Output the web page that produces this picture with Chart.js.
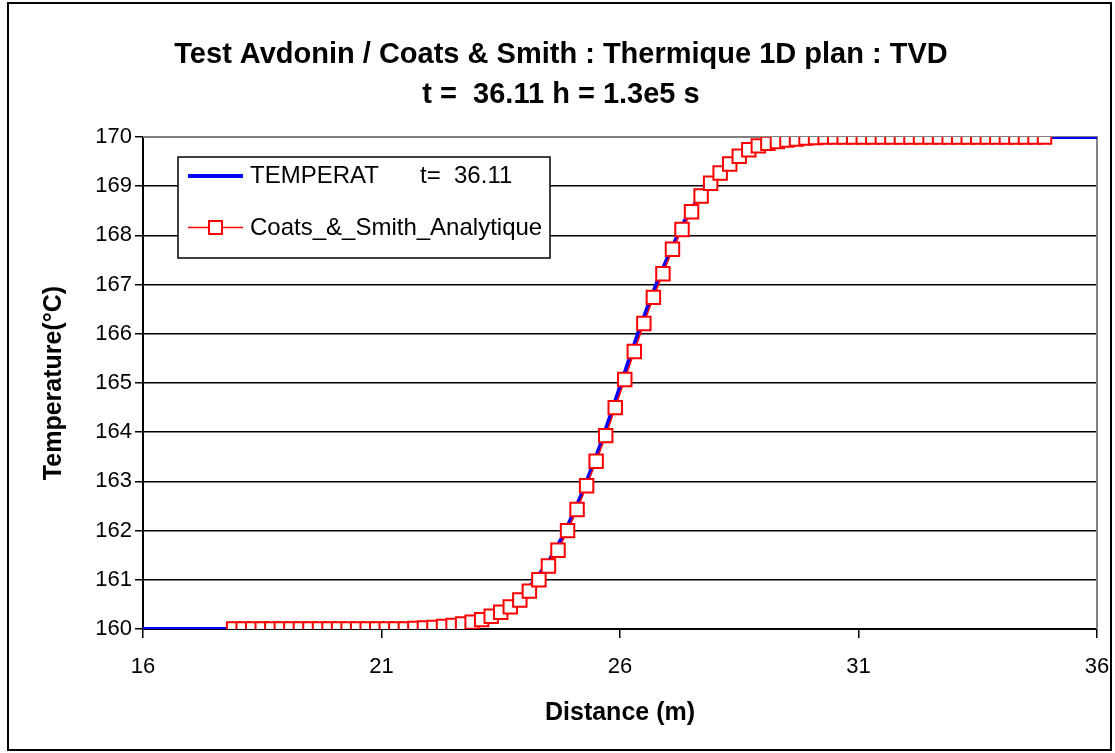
<!DOCTYPE html>
<html>
<head>
<meta charset="utf-8">
<script src="https://cdn.jsdelivr.net/npm/chart.js@4.4.1/dist/chart.umd.min.js"></script>
<style>
  html, body { margin: 0; padding: 0; background: #fff; }
  #wrap { width: 1115px; height: 753px; }
</style>
</head>
<body>
<div id="wrap"><canvas id="myChart" width="1115" height="753"></canvas></div>
<script>
// Données
const xTicks = [16, 21, 26, 31, 36];
const yTicks = [160, 161, 162, 163, 164, 165, 166, 167, 168, 169, 170];

// TEMPERAT (courbe calculée, trait bleu)
const blueX = [16, 21.5, 22.0, 22.5, 23.0, 23.5, 24.0, 24.5, 24.8, 25.0, 25.2, 25.4, 25.6, 25.8,
  26.0, 26.2, 26.4, 26.6, 26.8, 27.0, 27.2, 27.4, 27.7, 28.0, 28.5, 29.0, 29.5, 30.0, 30.5, 36];
const blueT = [160, 160.0, 160.03, 160.08, 160.18, 160.36, 160.72, 161.36, 161.88, 162.3, 162.75, 163.25, 163.77, 164.34,
  164.92, 165.5, 166.07, 166.6, 167.1, 167.55, 167.98, 168.38, 168.85, 169.2, 169.63, 169.86, 169.96, 169.99, 170.0, 170];

// Coats & Smith analytique (carrés rouges)
const redX = [17.9, 18.1, 18.3, 18.5, 18.7, 18.9, 19.1, 19.3, 19.5, 19.7, 19.9, 20.1, 20.3, 20.5, 20.7, 20.9,
  21.1, 21.3, 21.5, 21.7, 21.9, 22.1, 22.3, 22.5, 22.7, 22.9, 23.1, 23.3, 23.5, 23.7, 23.9, 24.1, 24.3, 24.5,
  24.7, 24.9, 25.1, 25.3, 25.5, 25.7, 25.9, 26.1, 26.3, 26.5, 26.7, 26.9, 27.1, 27.3, 27.5, 27.7, 27.9, 28.1,
  28.3, 28.5, 28.7, 28.9, 29.1, 29.3, 29.5, 29.7, 29.9, 30.1, 30.3, 30.5, 30.7, 30.9, 31.1, 31.3, 31.5, 31.7,
  31.9, 32.1, 32.3, 32.5, 32.7, 32.9, 33.1, 33.3, 33.5, 33.7, 33.9, 34.1, 34.3, 34.5, 34.7, 34.9];
const redT = [160, 160, 160, 160, 160, 160, 160, 160, 160, 160, 160, 160, 160, 160, 160, 160,
  160, 160, 160, 160.01, 160.02, 160.03, 160.05, 160.07, 160.10, 160.14, 160.19, 160.26, 160.34, 160.45, 160.59, 160.77, 161.00, 161.28,
  161.60, 162.00, 162.43, 162.91, 163.41, 163.93, 164.50, 165.07, 165.64, 166.21, 166.74, 167.22, 167.72, 168.12, 168.48, 168.80, 169.06, 169.27,
  169.45, 169.61, 169.74, 169.82, 169.87, 169.91, 169.94, 169.96, 169.98, 169.99, 170, 170, 170, 170, 170, 170, 170, 170,
  170, 170, 170, 170, 170, 170, 170, 170, 170, 170, 170, 170, 170, 170, 170, 170];

const FONT = "'Liberation Sans', Arial, sans-serif";

// cadre extérieur + bord gris du tracé
const framePlugin = {
  id: 'frame',
  beforeDraw(chart) {
    const ctx = chart.ctx;
    ctx.save();
    ctx.fillStyle = '#fff';
    ctx.fillRect(0, 0, chart.width, chart.height);
    ctx.restore();
  },
  beforeDatasetsDraw(chart) {
    const { ctx, chartArea: a } = chart;
    ctx.save();
    ctx.strokeStyle = '#808080';
    ctx.lineWidth = 2;
    ctx.beginPath();
    ctx.moveTo(a.left, a.top);
    ctx.lineTo(a.right, a.top);
    ctx.lineTo(a.right, a.bottom);
    ctx.stroke();
    ctx.restore();
  },
  afterDraw(chart) {
    const ctx = chart.ctx;
    ctx.save();
    ctx.strokeStyle = '#000';
    ctx.lineWidth = 2;
    ctx.strokeRect(8, 3, 1103, 747);
    ctx.restore();
  }
};

// légende encadrée dans la zone de tracé
const legendBox = {
  id: 'legendBox',
  afterDraw(chart) {
    const ctx = chart.ctx;
    ctx.save();
    ctx.fillStyle = '#fff';
    ctx.fillRect(178, 157, 372, 101);
    ctx.strokeStyle = '#000';
    ctx.lineWidth = 1.5;
    ctx.strokeRect(178, 157, 372, 101);

    ctx.strokeStyle = '#0000ff';
    ctx.lineWidth = 4;
    ctx.beginPath();
    ctx.moveTo(188, 176);
    ctx.lineTo(243, 176);
    ctx.stroke();

    ctx.strokeStyle = '#ff0000';
    ctx.lineWidth = 1.5;
    ctx.beginPath();
    ctx.moveTo(188, 227.5);
    ctx.lineTo(243, 227.5);
    ctx.stroke();
    ctx.fillStyle = '#fff';
    ctx.lineWidth = 2;
    ctx.fillRect(209, 221, 13, 13);
    ctx.strokeRect(209, 221, 13, 13);

    ctx.fillStyle = '#000';
    ctx.font = '24px ' + FONT;
    ctx.textBaseline = 'middle';
    ctx.fillText('TEMPERAT', 250, 176);
    ctx.fillText('t=  36.11', 420, 176);
    ctx.fillText('Coats_&_Smith_Analytique', 250, 228);
    ctx.restore();
  }
};

const ctx = document.getElementById('myChart').getContext('2d');
const myChart = new Chart(ctx, {
  type: 'scatter',
  data: {
    datasets: [
      {
        label: 'TEMPERAT          t=  36.11',
        data: blueX.map((x, i) => ({ x: x, y: blueT[i] })),
        showLine: true,
        borderColor: '#0000ff',
        borderWidth: 4,
        pointRadius: 0,
        tension: 0,
        order: 1
      },
      {
        label: 'Coats_&_Smith_Analytique',
        data: redX.map((x, i) => ({ x: x, y: redT[i] })),
        showLine: true,
        borderColor: '#ff0000',
        borderWidth: 1.5,
        pointStyle: 'rect',
        pointRadius: 9.5,
        pointBackgroundColor: '#fff',
        pointBorderColor: '#ff0000',
        pointBorderWidth: 2,
        tension: 0,
        order: 0
      }
    ]
  },
  options: {
    responsive: false,
    animation: false,
    layout: { padding: { left: 25, right: 18, top: 0, bottom: 0 } },
    plugins: {
      legend: { display: false },
      tooltip: { enabled: false },
      title: {
        display: true,
        text: ['Test Avdonin / Coats & Smith : Thermique 1D plan : TVD', 't =  36.11 h = 1.3e5 s'],
        color: '#000',
        font: { family: FONT, size: 29, weight: 'bold', lineHeight: 40 / 29 },
        padding: { top: 35, bottom: 22 }
      }
    },
    scales: {
      x: {
        type: 'linear',
        min: 16,
        max: 36,
        afterBuildTicks: (scale) => { scale.ticks = xTicks.map(v => ({ value: v })); },
        afterFit: (scale) => { scale.height = 124; scale.paddingLeft = 0; scale.paddingRight = 0; },
        grid: { drawOnChartArea: false, drawTicks: true, tickLength: 9, color: '#000', lineWidth: 1.5 },
        border: { display: true, color: '#000', width: 2 },
        ticks: { color: '#000', padding: 16, maxRotation: 0, font: { family: FONT, size: 22 } },
        title: {
          display: true,
          text: 'Distance (m)',
          color: '#000',
          font: { family: FONT, size: 25, weight: 'bold' },
          padding: { top: 0, bottom: 25 }
        }
      },
      y: {
        type: 'linear',
        min: 160,
        max: 170,
        afterBuildTicks: (scale) => { scale.ticks = yTicks.map(v => ({ value: v })); },
        afterFit: (scale) => { scale.width = 118; },
        grid: {
          drawTicks: true,
          tickLength: 8,
          lineWidth: 1.5,
          color: (c) => (c.tick && c.tick.value === 170 ? '#808080' : '#000'),
          tickColor: '#000'
        },
        border: { display: true, color: '#000', width: 2 },
        ticks: { color: '#000', padding: 3, font: { family: FONT, size: 22 } },
        title: {
          display: true,
          text: 'Temperature(°C)',
          color: '#000',
          font: { family: FONT, size: 25, weight: 'bold' },
          padding: { top: 14, bottom: 0 }
        }
      }
    }
  },
  plugins: [framePlugin, legendBox]
});
</script>
</body>
</html>
